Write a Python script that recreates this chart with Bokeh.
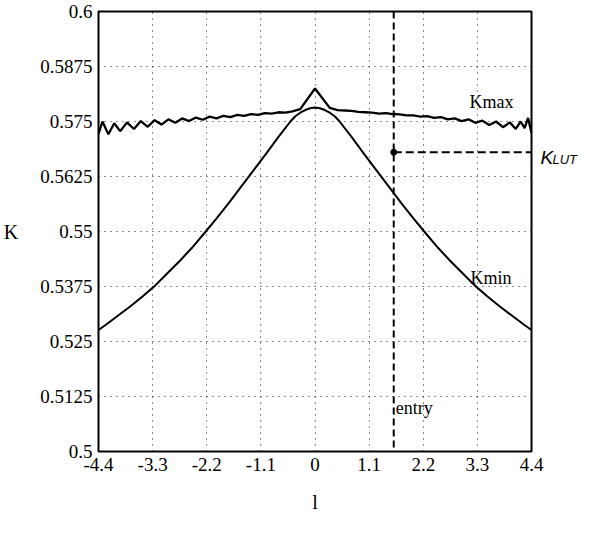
from bokeh.plotting import figure
from bokeh.models import FixedTicker, Label, Span, Range1d, LinearAxis
from bokeh.embed import file_html
from bokeh.resources import INLINE

# ---- data ----
x_ticks = [-4.4, -3.3, -2.2, -1.1, 0, 1.1, 2.2, 3.3, 4.4]
x_tick_labels = ["-4.4", "-3.3", "-2.2", "-1.1", "0", "1.1", "2.2", "3.3", "4.4"]
y_ticks = [0.5, 0.5125, 0.525, 0.5375, 0.55, 0.5625, 0.575, 0.5875, 0.6]
y_tick_labels = ["0.5", "0.5125", "0.525", "0.5375", "0.55", "0.5625", "0.575", "0.5875", "0.6"]

kmax_x = [-4.40, -4.32, -4.20, -4.08, -3.96, -3.82, -3.68, -3.54, -3.40, -3.26,
          -3.12, -2.98, -2.84, -2.70, -2.56, -2.42, -2.28, -2.14, -2.00, -1.86,
          -1.72, -1.58, -1.44, -1.30, -1.16, -1.02, -0.88, -0.74, -0.60, -0.46,
          -0.30, 0.00, 0.30, 0.46, 0.60, 0.74, 0.88, 1.02, 1.16, 1.30,
          1.44, 1.58, 1.72, 1.86, 2.00, 2.14, 2.28, 2.42, 2.56, 2.70,
          2.84, 2.98, 3.12, 3.26, 3.40, 3.54, 3.68, 3.82, 3.96, 4.08,
          4.18, 4.26, 4.33, 4.40]
kmax_y = [0.5722, 0.5750, 0.5721, 0.5746, 0.5728, 0.5748, 0.5733, 0.5751, 0.5738, 0.5753,
          0.5743, 0.5755, 0.5747, 0.5757, 0.5751, 0.5759, 0.5754, 0.5761, 0.5757, 0.5763,
          0.5760, 0.5765, 0.5763, 0.5767, 0.5765, 0.5769, 0.5768, 0.5771, 0.5770, 0.5773,
          0.5778, 0.5825, 0.5781, 0.5776, 0.5775, 0.5774, 0.5772, 0.5771, 0.5770, 0.5768,
          0.5769, 0.5767, 0.5766, 0.5764, 0.5764, 0.5761, 0.5762, 0.5758, 0.5760, 0.5755,
          0.5757, 0.5751, 0.5755, 0.5747, 0.5752, 0.5742, 0.5750, 0.5737, 0.5748, 0.5733,
          0.5750, 0.5735, 0.5758, 0.5724]

kmin_x = [-4.4, -4.25, -4.0, -3.75, -3.5, -3.25, -3.0, -2.75, -2.5, -2.25, -2.0, -1.75,
          -1.5, -1.25, -1.0, -0.75, -0.5, -0.4, -0.3, -0.2, -0.1, 0.0,
          0.1, 0.2, 0.3, 0.4, 0.5, 0.75, 1.0, 1.25, 1.5, 1.75, 2.0, 2.25,
          2.5, 2.75, 3.0, 3.25, 3.5, 3.75, 4.0, 4.25, 4.4]
kmin_y = [0.5276, 0.5288, 0.5309, 0.5330, 0.5353, 0.5377, 0.5405, 0.5433, 0.5463, 0.5496, 0.5530, 0.5565,
          0.5602, 0.5639, 0.5676, 0.5714, 0.5750, 0.5762, 0.5770, 0.5776, 0.5780, 0.5782,
          0.5780, 0.5776, 0.5770, 0.5762, 0.5750, 0.5714, 0.5676, 0.5639, 0.5602, 0.5565, 0.5530, 0.5496,
          0.5463, 0.5433, 0.5405, 0.5377, 0.5353, 0.5330, 0.5309, 0.5288, 0.5276]

entry_l = 1.6
k_lut = 0.568
x_min, x_max = -4.4, 4.4
y_min, y_max = 0.5, 0.6

SERIF = "Liberation Serif"
SANS = "Liberation Sans"

p = figure(width=589, height=517,
           x_range=Range1d(x_min, x_max), y_range=Range1d(y_min, y_max),
           output_backend="svg", toolbar_location=None,
           min_border_left=98, min_border_right=58,
           min_border_top=11, min_border_bottom=66)

p.background_fill_color = "white"
p.border_fill_color = "white"
p.outline_line_color = "black"
p.outline_line_width = 2

def plain_axis(ax):
    ax.axis_line_color = None
    ax.major_tick_line_color = None
    ax.minor_tick_line_color = None
    ax.major_tick_out = 0
    ax.major_tick_in = 0
    ax.minor_tick_out = 0
    ax.minor_tick_in = 0
    ax.major_label_text_color = "black"

# axes
p.xaxis.ticker = FixedTicker(ticks=x_ticks)
p.yaxis.ticker = FixedTicker(ticks=y_ticks)
p.xaxis.major_label_overrides = {t: s for t, s in zip(x_ticks, x_tick_labels)}
p.yaxis.major_label_overrides = {t: s for t, s in zip(y_ticks, y_tick_labels)}
for ax in (p.xaxis, p.yaxis):
    plain_axis(ax)
    ax.major_label_text_font = SERIF
    ax.major_label_text_font_size = "19px"
    ax.axis_label_text_font = SERIF
    ax.axis_label_text_font_size = "20px"
    ax.axis_label_text_font_style = "normal"
    ax.axis_label_text_color = "black"

p.xaxis.major_label_standoff = 6
p.yaxis.major_label_standoff = 6
p.xaxis.axis_label = "l"
p.xaxis.axis_label_standoff = 17
p.yaxis.axis_label = "K"
p.yaxis.axis_label_orientation = "horizontal"
p.yaxis.axis_label_standoff = 19

# K_LUT marker text on the right side, as two stacked right axes ("K" + subscript "LUT")
ax_k = LinearAxis(ticker=FixedTicker(ticks=[0.5669]), major_label_overrides={0.5669: "K"})
plain_axis(ax_k)
ax_k.major_label_standoff = 9
ax_k.major_label_text_font = SANS
ax_k.major_label_text_font_size = "19px"
ax_k.major_label_text_font_style = "italic"
p.add_layout(ax_k, "right")

ax_lut = LinearAxis(ticker=FixedTicker(ticks=[0.5663]), major_label_overrides={0.5663: "LUT"})
plain_axis(ax_lut)
ax_lut.major_label_standoff = -4
ax_lut.major_label_text_font = SANS
ax_lut.major_label_text_font_size = "13px"
ax_lut.major_label_text_font_style = "italic"
p.add_layout(ax_lut, "right")

# dotted grid
for g in (p.xgrid, p.ygrid):
    g.grid_line_color = "black"
    g.grid_line_dash = "1 5"
    g.grid_line_width = 1
    g.grid_line_alpha = 0.9
p.xgrid.ticker = FixedTicker(ticks=x_ticks)
p.ygrid.ticker = FixedTicker(ticks=y_ticks)

# curves
p.line(kmin_x, kmin_y, line_color="black", line_width=2)
p.line(kmax_x, kmax_y, line_color="black", line_width=2.3)

# entry line and K_LUT line
p.add_layout(Span(location=entry_l, dimension="height", line_color="black",
                  line_width=2, line_dash="7 4"))
p.line([entry_l, x_max], [k_lut, k_lut], line_color="black", line_width=2, line_dash="8 4")
p.scatter([entry_l], [k_lut], size=6, color="black")

def lab(x, y, text, size, font=SERIF, style="normal"):
    p.add_layout(Label(x=x, y=y, text=text,
                       text_font=font, text_font_size=size, text_font_style=style,
                       text_color="black", text_align="left", text_baseline="alphabetic"))

lab(3.14, 0.5795, "Kmax", "18px")
lab(3.16, 0.5394, "Kmin", "18px")
lab(1.64, 0.5098, "entry", "18px")

open("out.html", "w").write(file_html(p, INLINE))
